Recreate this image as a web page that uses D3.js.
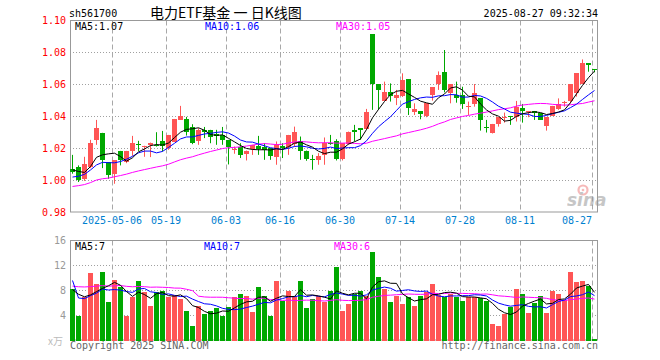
<!DOCTYPE html>
<html>
<head>
<meta charset="utf-8">
<script src="https://cdn.jsdelivr.net/npm/d3@7"></script>
<style>
  body { margin: 0; background: #fff; }
  svg { display: block; }
  text { font-family: "DejaVu Sans Mono", monospace; font-size: 10px; }
</style>
</head>
<body>
<div id="chart"></div>
<script>
// trading days, 2025-04-22 .. 2025-08-27
const dates = [
  "04-22","04-23","04-24","04-25","04-28","04-29","04-30",
  "05-06","05-07","05-08","05-09","05-12","05-13","05-14","05-15","05-16",
  "05-19","05-20","05-21","05-22","05-23","05-26","05-27","05-28","05-29","05-30",
  "06-03","06-04","06-05","06-06","06-09","06-10","06-11","06-12","06-13",
  "06-16","06-17","06-18","06-19","06-20","06-23","06-24","06-25","06-26","06-27",
  "06-30","07-01","07-02","07-03","07-04","07-07","07-08","07-09","07-10","07-11",
  "07-14","07-15","07-16","07-17","07-18","07-21","07-22","07-23","07-24","07-25",
  "07-28","07-29","07-30","07-31","08-01","08-04","08-05","08-06","08-07","08-08",
  "08-11","08-12","08-13","08-14","08-15","08-18","08-19","08-20","08-21","08-22",
  "08-25","08-26","08-27"
];

const open = [
  1.0069,1.0085,1.0006,1.0081,1.0252,1.0296,1.0113,1.0033,1.0183,1.0117,
  1.0183,1.0225,1.0206,1.0221,1.0221,1.0246,1.0200,1.0240,1.0379,1.0383,
  1.0333,1.0248,1.0315,1.0315,1.0288,1.0283,1.0252,1.0192,1.0206,1.0169,
  1.0196,1.0215,1.0210,1.0200,1.0148,1.0215,1.0210,1.0231,1.0248,1.0185,
  1.0129,1.0127,1.0154,1.0235,1.0246,1.0133,1.0231,1.0315,1.0325,1.0325,
  1.0915,1.0600,1.0498,1.0554,1.0515,1.0529,1.0633,1.0429,1.0433,1.0402,
  1.0529,1.0602,1.0677,1.0544,1.0533,1.0533,1.0460,1.0477,1.0512,1.0333,
  1.0294,1.0352,1.0392,1.0402,1.0394,1.0450,1.0429,1.0433,1.0419,1.0335,
  1.0404,1.0444,1.0485,1.0498,1.0544,1.0602,1.0731,1.0696
];
const high = [
  1.0158,1.0092,1.0146,1.0252,1.0377,1.0296,1.0113,1.0123,1.0183,1.0183,
  1.0277,1.0246,1.0215,1.0235,1.0300,1.0308,1.0283,1.0383,1.0465,1.0396,
  1.0350,1.0325,1.0333,1.0315,1.0315,1.0333,1.0252,1.0210,1.0231,1.0185,
  1.0221,1.0277,1.0231,1.0200,1.0242,1.0231,1.0283,1.0335,1.0273,1.0185,
  1.0158,1.0169,1.0267,1.0283,1.0256,1.0231,1.0304,1.0346,1.0325,1.0446,
  1.0915,1.0600,1.0617,1.0606,1.0565,1.0669,1.0633,1.0481,1.0433,1.0481,
  1.0581,1.0681,1.0815,1.0602,1.0617,1.0585,1.0492,1.0602,1.0512,1.0377,
  1.0352,1.0394,1.0423,1.0402,1.0496,1.0477,1.0433,1.0433,1.0419,1.0394,
  1.0465,1.0512,1.0496,1.0602,1.0669,1.0756,1.0731,1.0696
];
const low = [
  1.0040,0.9988,0.9995,1.0075,1.0221,1.0075,1.0008,0.9977,1.0092,1.0106,
  1.0152,1.0183,1.0146,1.0144,1.0210,1.0179,1.0190,1.0240,1.0377,1.0279,
  1.0225,1.0221,1.0263,1.0231,1.0221,1.0221,1.0098,1.0165,1.0138,1.0123,
  1.0158,1.0158,1.0127,1.0127,1.0096,1.0138,1.0158,1.0210,1.0127,1.0121,
  1.0065,1.0096,1.0096,1.0221,1.0123,1.0123,1.0221,1.0242,1.0252,1.0315,
  1.0440,1.0440,1.0498,1.0492,1.0470,1.0521,1.0408,1.0408,1.0381,1.0394,
  1.0498,1.0565,1.0550,1.0481,1.0485,1.0446,1.0408,1.0460,1.0310,1.0298,
  1.0292,1.0335,1.0360,1.0346,1.0367,1.0360,1.0394,1.0377,1.0377,1.0310,
  1.0404,1.0440,1.0460,1.0480,1.0523,1.0602,1.0679,1.0675
];
const close = [
  1.0048,1.0003,1.0102,1.0233,1.0327,1.0127,1.0033,1.0123,1.0127,1.0183,
  1.0233,1.0219,1.0213,1.0233,1.0215,1.0217,1.0283,1.0383,1.0402,1.0304,
  1.0235,1.0315,1.0304,1.0269,1.0277,1.0252,1.0206,1.0194,1.0154,1.0185,
  1.0221,1.0196,1.0194,1.0148,1.0221,1.0200,1.0283,1.0304,1.0185,1.0133,
  1.0127,1.0154,1.0231,1.0229,1.0133,1.0231,1.0304,1.0304,1.0315,1.0429,
  1.0600,1.0565,1.0554,1.0531,1.0533,1.0627,1.0454,1.0446,1.0413,1.0481,
  1.0581,1.0658,1.0565,1.0602,1.0517,1.0477,1.0465,1.0548,1.0377,1.0331,
  1.0352,1.0394,1.0394,1.0400,1.0456,1.0433,1.0431,1.0419,1.0377,1.0394,
  1.0465,1.0477,1.0488,1.0602,1.0669,1.0731,1.0719,1.0694
];
// volume, 万手
const volume = [
  8.3,4.0,7.0,10.8,9.0,10.9,6.1,9.7,8.5,4.0,
  7.0,9.5,7.75,5.5,7.75,7.9,7.0,7.3,6.6,4.7,
  2.3,5.5,4.2,4.7,5.2,4.0,5.3,6.9,7.5,7.2,
  4.5,8.5,7.2,4.0,9.6,6.4,8.0,7.2,9.45,5.2,
  6.6,7.2,6.2,8.0,11.7,4.7,5.9,7.5,8.0,7.2,
  14.2,10.1,8.2,6.1,7.1,5.8,7.0,5.6,7.2,7.75,
  9.1,7.3,7.0,7.5,7.0,6.3,7.0,7.0,6.8,6.3,
  2.6,2.3,4.2,5.4,8.3,7.4,4.35,6.05,7.1,4.35,
  7.9,7.4,6.5,10.9,9.3,9.45,8.7,0.16
];
// sessions before the window (estimated from where the MA lines start)
const priorClose = [
  0.985,0.990,0.986,0.984,0.989,0.991,0.987,0.990,0.992,0.991,
  0.994,0.996,0.999,0.997,1.000,0.998,0.995,0.999,1.000,0.998,
  0.995,0.9985,0.996,1.001,0.9965,1.0053,1.0132,1.0048,1.0039
];
const priorVolume = [
  7,8,9,7,8,9,8,7,8,9,
  8,9,8,7,9,8,10,7,10,9,
  32,8,6,5,4.25,7.75,9.0,9.3,6.4
];

const tickDates = ["05-06","05-19","06-03","06-16","06-30","07-14","07-28","08-11","08-27"];
const priceTicks = [0.98,1.00,1.02,1.04,1.06,1.08,1.10];
const volTicks = [4,8,12,16];

const W = 660, H = 360;
const left = 70, right = 598;
const top1 = 20.5, bot1 = 212, top2 = 240.5, bot2 = 340.5;
const RED = "#ff5555", GREEN = "#00a800";

const svg = d3.select("#chart").append("svg").attr("width", W).attr("height", H);

const x = d3.scaleBand().domain(dates).range([left, right]).padding(0);
const y = d3.scaleLinear().domain([0.98, 1.10]).range([bot1, top1]);
const yv = d3.scaleLinear().domain([0, 16]).range([bot2, top2]);

function movingAvg(values, prior, n) {
  const all = prior.concat(values);
  return values.map((v, i) => d3.mean(all.slice(prior.length + i - n + 1, prior.length + i + 1)));
}
const ma5 = movingAvg(close, priorClose, 5);
const ma10 = movingAvg(close, priorClose, 10);
const ma30 = movingAvg(close, priorClose, 30);
const vma5 = movingAvg(volume, priorVolume, 5);
const vma10 = movingAvg(volume, priorVolume, 10);
const vma30 = movingAvg(volume, priorVolume, 30);

const crisp = v => Math.round(v) + 0.5;

// ---- header
svg.append("text").attr("x", 69).attr("y", 17).attr("fill", "#000").text("sh561700");
svg.append("text").attr("x", 150).attr("y", 18)
  .style("font-family", '"Noto Sans CJK SC", sans-serif').style("font-size", "14px")
  .style("white-space", "pre")
  .text("电力ETF基金 一 日K线图");
svg.append("text").attr("x", 598).attr("y", 17).attr("text-anchor", "end").text("2025-08-27 09:32:34");

// ---- grids
function grid(yTop, yBot, hVals, yScale) {
  const g = svg.append("g");
  g.selectAll("line.h").data(hVals).enter().append("line")
    .attr("x1", left).attr("x2", right)
    .attr("y1", d => crisp(yScale(d) - 0.5)).attr("y2", d => crisp(yScale(d) - 0.5))
    .attr("stroke", "#a0a0a0").attr("stroke-dasharray", "1,2");
  g.selectAll("line.v").data(tickDates).enter().append("line")
    .attr("x1", d => x(d) + 0.5).attr("x2", d => x(d) + 0.5)
    .attr("y1", yTop).attr("y2", yBot)
    .attr("stroke", "#a8a8a8").attr("stroke-dasharray", "5,3");
}
grid(top1, bot1, [1.00, 1.02, 1.04, 1.06, 1.08], y);
grid(top2, bot2, [4, 8, 12], yv);

// sina watermark
const wm = svg.append("g").attr("opacity", 0.55);
wm.append("circle").attr("cx", 583).attr("cy", 190).attr("r", 4.5)
  .attr("fill", "none").attr("stroke", "#f08080").attr("stroke-width", 2.2);
wm.append("circle").attr("cx", 583).attr("cy", 190).attr("r", 1.3).attr("fill", "#f08080");
wm.append("text").attr("x", 567).attr("y", 206)
  .style("font-family", '"DejaVu Sans", sans-serif').style("font-size", "17px")
  .style("font-style", "italic").style("font-weight", "bold")
  .attr("fill", "#999").text("sina");

// ---- frames
[[top1, bot1], [top2, bot2]].forEach(([t, b]) => {
  svg.append("rect").attr("x", left + 0.5).attr("y", t).attr("width", right - left - 1)
    .attr("height", Math.round(b - t) - 0.5)
    .attr("fill", "none").attr("stroke", "#999");
});

// ---- candles
const bw = 5;
const candles = svg.append("g").selectAll("g").data(dates).enter().append("g");
candles.append("line")
  .attr("x1", d => x(d) + 2.5).attr("x2", d => x(d) + 2.5)
  .attr("y1", (d, i) => y(high[i])).attr("y2", (d, i) => y(low[i]))
  .attr("stroke", (d, i) => close[i] >= open[i] ? RED : GREEN);
candles.append("rect")
  .attr("x", d => x(d)).attr("width", bw)
  .attr("y", (d, i) => Math.round(y(Math.max(open[i], close[i]))))
  .attr("height", (d, i) => Math.max(1, Math.round(Math.abs(y(open[i]) - y(close[i])))))
  .attr("fill", (d, i) => close[i] >= open[i] ? RED : GREEN);

// ---- volume bars
svg.append("g").selectAll("rect").data(dates).enter().append("rect")
  .attr("x", d => x(d)).attr("width", bw)
  .attr("y", (d, i) => Math.round(yv(volume[i])))
  .attr("height", (d, i) => Math.max(1, Math.round(bot2) - Math.round(yv(volume[i]))))
  .attr("fill", (d, i) => close[i] >= open[i] ? RED : GREEN);

// ---- MA lines
function maLine(vals, yScale, color) {
  const line = d3.line().x((v, i) => x(dates[i]) + 2.5).y(v => yScale(v));
  svg.append("path").datum(vals).attr("d", line)
    .attr("fill", "none").attr("stroke", color).attr("stroke-width", 1);
}
maLine(ma30, y, "#ff00ff");
maLine(ma10, y, "#0000ff");
maLine(ma5, y, "#000");
maLine(vma30, yv, "#ff00ff");
maLine(vma10, yv, "#0000ff");
maLine(vma5, yv, "#000");

// ---- MA legends
const last = a => a[a.length - 1];
svg.append("text").attr("x", 75).attr("y", 30).attr("fill", "#000").text("MA5:" + last(ma5).toFixed(2));
svg.append("text").attr("x", 205).attr("y", 30).attr("fill", "#0000ff").text("MA10:" + last(ma10).toFixed(2));
svg.append("text").attr("x", 336).attr("y", 30).attr("fill", "#ff00ff").text("MA30:" + last(ma30).toFixed(2));
svg.append("text").attr("x", 75).attr("y", 250).attr("fill", "#000").text("MA5:" + Math.floor(last(vma5)));
svg.append("text").attr("x", 204).attr("y", 250).attr("fill", "#0000ff").text("MA10:" + Math.floor(last(vma10)));
svg.append("text").attr("x", 334).attr("y", 250).attr("fill", "#ff00ff").text("MA30:" + Math.floor(last(vma30)));

// ---- axes labels
svg.append("g").selectAll("text").data(priceTicks).enter().append("text")
  .attr("x", 66).attr("y", d => y(d)).attr("dy", "0.35em").attr("text-anchor", "end")
  .attr("fill", "#ff0000").text(d => d.toFixed(2));
svg.append("g").selectAll("text").data(volTicks).enter().append("text")
  .attr("x", 66).attr("y", d => yv(d)).attr("dy", "0.35em").attr("text-anchor", "end")
  .attr("fill", "#999").text(d => d);
svg.append("text").attr("x", 48).attr("y", 345).attr("fill", "#bbb")
  .style("font-family", '"Noto Sans CJK SC", sans-serif').style("font-size", "10px").text("x万");

svg.append("g").selectAll("text").data(tickDates).enter().append("text")
  .attr("x", d => x(d))
  .attr("y", 224)
  .attr("text-anchor", (d, i) => i === tickDates.length - 1 ? "end" : "middle")
  .attr("fill", "#0080d0")
  .text((d, i) => i === 0 ? "2025-" + d : d);

// ---- footer
svg.append("text").attr("x", 70).attr("y", 349).attr("fill", "#666").text("Copyright 2025 SINA.COM");
svg.append("text").attr("x", 598).attr("y", 349).attr("text-anchor", "end").attr("fill", "#666").text("http://finance.sina.com.cn");
</script>
</body>
</html>
